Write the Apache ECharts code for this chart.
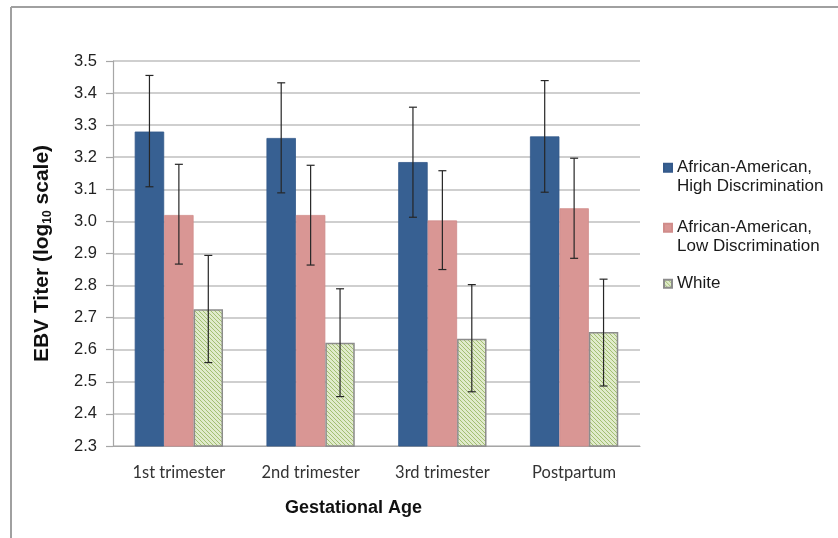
<!DOCTYPE html>
<html>
<head>
<meta charset="utf-8">
<script src="https://cdn.jsdelivr.net/npm/echarts@6/dist/echarts.min.js"></script>
<style>
html,body{margin:0;padding:0;background:#fff;}
#chart{width:838px;height:538px;}
</style>
</head>
<body>
<div id="chart"></div>
<script>
// ---- data ----
const categories = ['1st trimester', '2nd trimester', '3rd trimester', 'Postpartum'];
const seriesNames = ['African-American,\nHigh Discrimination', 'African-American,\nLow Discrimination', 'White'];
const highMean = [3.28, 3.26, 3.185, 3.265];
const highErrLow = [3.108, 3.089, 3.013, 3.091];
const highErrHigh = [3.455, 3.432, 3.356, 3.439];
const lowMean = [3.02, 3.02, 3.003, 3.041];
const lowErrLow = [2.867, 2.864, 2.85, 2.885];
const lowErrHigh = [3.178, 3.175, 3.158, 3.197];
const whiteMean = [2.726, 2.622, 2.634, 2.655];
const whiteErrLow = [2.56, 2.454, 2.469, 2.487];
const whiteErrHigh = [2.894, 2.79, 2.803, 2.82];
const yTicks = ['2.3','2.4','2.5','2.6','2.7','2.8','2.9','3.0','3.1','3.2','3.3','3.4','3.5'];

// hatch pattern for White
const pc = document.createElement('canvas');
pc.width = 4; pc.height = 4;
const pctx = pc.getContext('2d');
pctx.fillStyle = '#e0ebcb';
pctx.fillRect(0, 0, 4, 4);
pctx.strokeStyle = '#a3bf72';
pctx.lineWidth = 1;
for (let o = -4; o <= 4; o += 4) {
  pctx.beginPath();
  pctx.moveTo(o, 0);
  pctx.lineTo(o + 4, 4);
  pctx.stroke();
}
const hatch = { image: pc, repeat: 'repeat' };

const colors = ['#376092', '#d99694', hatch];
const catGap = 0.33;

function errData(lo, hi) {
  return categories.map((c, i) => [i, lo[i], hi[i]]);
}
function errSeries(idx, lo, hi) {
  return {
    type: 'custom',
    name: 'err' + idx,
    silent: true,
    z: 5,
    encode: { x: 0, y: [1, 2] },
    data: errData(lo, hi),
    renderItem: function (params, api) {
      const band = api.size([1, 0])[0];
      const bw = band * (1 - catGap) / 3;
      const cx = api.coord([api.value(0), 0])[0] + (idx - 1) * bw;
      const yLo = api.coord([0, api.value(1)])[1];
      const yHi = api.coord([0, api.value(2)])[1];
      const cap = 4;
      const st = { stroke: '#262626', lineWidth: 1.2 };
      return {
        type: 'group',
        children: [
          { type: 'line', shape: { x1: cx, y1: yLo, x2: cx, y2: yHi }, style: st },
          { type: 'line', shape: { x1: cx - cap, y1: yHi, x2: cx + cap, y2: yHi }, style: st },
          { type: 'line', shape: { x1: cx - cap, y1: yLo, x2: cx + cap, y2: yLo }, style: st }
        ]
      };
    }
  };
}

const chart = echarts.init(document.getElementById('chart'), null, { renderer: 'canvas' });
const font = '"Liberation Sans", Arial, sans-serif';
const option = {
  backgroundColor: '#ffffff',
  animation: false,
  graphic: [
    { type: 'line', shape: { x1: 11, y1: 7, x2: 838, y2: 7 }, style: { stroke: '#a0a0a0', lineWidth: 2 } },
    { type: 'line', shape: { x1: 11, y1: 7, x2: 11, y2: 538 }, style: { stroke: '#a0a0a0', lineWidth: 2 } }
  ],
  grid: { left: 113, right: 198, top: 61, bottom: 92 },
  legend: {
    orient: 'vertical',
    left: 663,
    top: 140,
    padding: 0,
    itemWidth: 8,
    itemHeight: 8,
    itemGap: 4.5,
    icon: 'rect',
    selectedMode: false,
    formatter: function (name) {
      return name.indexOf('\n') >= 0 ? '\n' + name : name;
    },
    textStyle: { fontFamily: font, fontSize: 17, color: '#1a1a1a', lineHeight: 18.5 },
    data: [
      { name: seriesNames[0] },
      { name: seriesNames[1] },
      { name: seriesNames[2], textStyle: { lineHeight: 47.5 } }
    ]
  },
  xAxis: {
    type: 'category',
    data: categories,
    axisLine: { lineStyle: { color: '#a6a6a6', width: 1.2 } },
    axisTick: { show: false },
    axisLabel: { fontFamily: 'Lato, "Open Sans", sans-serif', fontSize: 16.5, color: '#333', margin: 18 },
    name: 'Gestational Age',
    nameLocation: 'middle',
    nameGap: 53,
    nameTextStyle: { fontFamily: font, fontWeight: 'bold', fontSize: 18, color: '#111', padding: [0, 46, 0, 0] }
  },
  yAxis: {
    type: 'value',
    min: 2.3,
    max: 3.5,
    interval: 0.1,
    axisLine: { show: true, lineStyle: { color: '#a6a6a6', width: 1.2 } },
    axisTick: { show: true, inside: false, length: 7, lineStyle: { color: '#a6a6a6', width: 1.2 } },
    splitLine: { show: true, lineStyle: { color: '#bfbfbf', width: 1.5 } },
    axisLabel: {
      fontFamily: font, fontSize: 16.5, color: '#222', margin: 16,
      formatter: function (v) {
        const s = v.toFixed(1);
        return yTicks.indexOf(s) >= 0 ? s : '';
      }
    },
    name: '{a|EBV Titer (log}{s|10}{a| scale)}',
    nameLocation: 'middle',
    nameGap: 59,
    nameTextStyle: {
      rich: {
        a: { fontFamily: font, fontWeight: 'bold', fontSize: 21, color: '#111', lineHeight: 24 },
        s: { fontFamily: font, fontWeight: 'bold', fontSize: 12, color: '#111', lineHeight: 24, padding: [11, 0, 0, 0] }
      }
    }
  },
  series: [
    {
      type: 'bar', name: seriesNames[0], data: highMean, barGap: '0%', barCategoryGap: '33%',
      itemStyle: { color: colors[0], borderColor: '#34598a', borderWidth: 0.8 }
    },
    {
      type: 'bar', name: seriesNames[1], data: lowMean,
      itemStyle: { color: colors[1], borderColor: '#d08c8a', borderWidth: 0.8 }
    },
    {
      type: 'bar', name: seriesNames[2], data: whiteMean,
      itemStyle: { color: colors[2], borderColor: '#8c8c8c', borderWidth: 1.5 }
    },
    errSeries(0, highErrLow, highErrHigh),
    errSeries(1, lowErrLow, lowErrHigh),
    errSeries(2, whiteErrLow, whiteErrHigh)
  ]
};
chart.setOption(option);
</script>
</body>
</html>
